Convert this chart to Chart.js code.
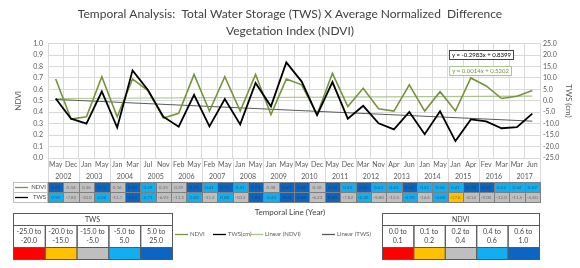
<!DOCTYPE html>
<html>
<head>
<meta charset="utf-8">
<script src="https://cdn.jsdelivr.net/npm/chart.js@4"></script>
<style>
html, body { margin: 0; padding: 0; background: #fff; }
</style>
</head>
<body>
<canvas id="grafico" width="580" height="268"></canvas>
<script>
const meses = ["May", "Dec", "Jan", "May", "Jan", "Mar", "Jul", "Nov", "Feb", "May", "Feb", "May", "Jan", "May", "Jan", "May",
    "May", "Dec", "May", "Dec", "Mar", "Nov", "Apr", "Jun", "Jan", "May", "Jan", "Apr", "Fev", "Mar", "Mar", "Jun"];
const anos = ["2002", "2003", "2004", "2005", "2006", "2007", "2008", "2009", "2010", "2011", "2012", "2013", "2014", "2015", "2016", "2017"];

const ndvi = [0.69, 0.34, 0.36, 0.71, 0.36, 0.69, 0.59, 0.35, 0.39, 0.73, 0.41, 0.71, 0.41, 0.73, 0.38, 0.69,
    0.64, 0.38, 0.74, 0.45, 0.61, 0.43, 0.41, 0.64, 0.41, 0.58, 0.41, 0.70, 0.63, 0.52, 0.54, 0.59];
const tws = [0.99, -7.82, -10.0, 4.06, -11.7, 13.3, 4.71, -6.93, -11.3, 2.6, -11.2, 0.8, -10.3, 7.8, -2.43, 16.8,
    8.4, -6.23, 8.2, -7.82, -2.2, -9.8, -12.5, -4.9, -14.6, -4.6, -17.6, -8.14, -9.0, -12.0, -11.5, -5.6];

// extremos das linhas de tendência
const linearNdvi = [0.52, 0.54];
const linearTws = [0.6, -8.9];
const eqTws = "y = -0.2983x + 0.8399";
const eqNdvi = "y = 0.0014x + 0.5202";

const faixasTws = [["-25.0 to", "-20.0"], ["-20.0 to", "-15.0"], ["-15.0 to", "-5.0"], ["-5.0 to", "5.0"], ["5.0 to", "25.0"]];
const faixasNdvi = [["0.0 to", "0.1"], ["0.1 to", "0.2"], ["0.2 to", "0.4"], ["0.4 to", "0.6"], ["0.6 to", "1.0"]];
const limitesTws = [-20, -15, -5, 5];
const limitesNdvi = [0.1, 0.2, 0.4, 0.6];
const coresFaixa = ["#ff0000", "#ffc000", "#bfbfbf", "#12aef0", "#0a66c2"];

const corNdvi = "#77933c";
const corTws = "#000000";
const corLinNdvi = "#a9c48e";
const corLinTws = "#595959";
const fonte = "Lato";

function extremos(par) {
    return meses.map((m, i) => (i === 0 ? par[0] : i === meses.length - 1 ? par[1] : null));
}

function corDe(v, limites) {
    return coresFaixa[limites.filter((l) => v > l).length];
}

function tabelaLegenda(ctx, x0, y0, w, titulo, faixas) {
    const colW = w / 5;
    ctx.strokeStyle = "#595959";
    ctx.lineWidth = 1;
    ctx.fillStyle = "#404040";
    ctx.font = "7px " + fonte;
    ctx.textAlign = "center";
    ctx.textBaseline = "middle";
    ctx.strokeRect(x0 + 0.5, y0 + 0.5, w, 12);
    ctx.fillText(titulo, x0 + w / 2, y0 + 7);
    faixas.forEach((f, i) => {
        const cx = x0 + i * colW;
        ctx.fillStyle = coresFaixa[i];
        ctx.fillRect(cx + 0.5, y0 + 34.5, colW, 12);
        ctx.strokeStyle = "#595959";
        ctx.strokeRect(cx + 0.5, y0 + 12.5, colW, 22);
        ctx.strokeRect(cx + 0.5, y0 + 34.5, colW, 12);
        ctx.fillStyle = "#404040";
        ctx.fillText(f[0], cx + colW / 2, y0 + 19);
        ctx.fillText(f[1], cx + colW / 2, y0 + 28);
    });
}

const tabelaPlugin = {
    id: "tabela",
    afterDraw(chart) {
        const ctx = chart.ctx;
        const x = chart.scales.x;
        const area = chart.chartArea;
        const passo = x.getPixelForValue(1) - x.getPixelForValue(0);
        ctx.save();

        // anos e divisórias
        ctx.font = "7px " + fonte;
        ctx.fillStyle = "#595959";
        ctx.textAlign = "center";
        ctx.textBaseline = "middle";
        ctx.strokeStyle = "#d9d9d9";
        ctx.lineWidth = 1;
        anos.forEach((ano, k) => {
            const cx = (x.getPixelForValue(2 * k) + x.getPixelForValue(2 * k + 1)) / 2;
            ctx.fillText(ano, cx, area.bottom + 19);
            const xl = Math.round(x.getPixelForValue(2 * k) - passo / 2) + 0.5;
            ctx.beginPath();
            ctx.moveTo(xl, area.bottom);
            ctx.lineTo(xl, area.bottom + 24);
            ctx.stroke();
        });
        const xr = Math.round(x.getPixelForValue(meses.length - 1) + passo / 2) + 0.5;
        ctx.beginPath();
        ctx.moveTo(xr, area.bottom);
        ctx.lineTo(xr, area.bottom + 24);
        ctx.stroke();

        // tabela de dados
        const linhas = [
            { nome: "NDVI", dados: ndvi, cor: corNdvi, lim: limitesNdvi, fmt: (v) => v.toFixed(2) },
            { nome: "TWS", dados: tws, cor: corTws, lim: limitesTws, fmt: (v) => (Math.abs(v) >= 10 ? v.toFixed(1) : v.toFixed(2)) },
        ];
        linhas.forEach((linha, r) => {
            const y0 = area.bottom + 24 + r * 10;
            ctx.strokeStyle = "#bfbfbf";
            ctx.strokeRect(13.5, y0 + 0.5, area.left - 14, 10);
            ctx.strokeStyle = linha.cor;
            ctx.lineWidth = 1.3;
            ctx.beginPath();
            ctx.moveTo(15, y0 + 5.5);
            ctx.lineTo(28, y0 + 5.5);
            ctx.stroke();
            ctx.lineWidth = 1;
            ctx.fillStyle = "#404040";
            ctx.font = "6px " + fonte;
            ctx.textAlign = "right";
            ctx.fillText(linha.nome, area.left - 2, y0 + 5.5);
            ctx.textAlign = "center";
            linha.dados.forEach((v, i) => {
                const cx = x.getPixelForValue(i);
                const xl = Math.round(cx - passo / 2);
                const xw = Math.round(cx + passo / 2) - xl;
                ctx.fillStyle = corDe(v, linha.lim);
                ctx.fillRect(xl, y0, xw, 10);
                ctx.strokeStyle = "#7f7f7f";
                ctx.strokeRect(xl + 0.5, y0 + 0.5, xw, 10);
                ctx.fillStyle = "rgba(40,40,40,0.55)";
                ctx.font = "4.5px " + fonte;
                ctx.fillText(linha.fmt(v), cx, y0 + 5.5);
            });
        });

        // título do eixo x
        ctx.font = "8px " + fonte;
        ctx.fillStyle = "#404040";
        ctx.textAlign = "center";
        ctx.fillText("Temporal Line (Year)", 290, 212);

        // legenda das séries
        const itens = [
            { nome: "NDVI", cor: corNdvi, x: 175 },
            { nome: "TWS(cm)", cor: corTws, x: 213 },
            { nome: "Linear (NDVI)", cor: corLinNdvi, x: 250 },
            { nome: "Linear (TWS)", cor: corLinTws, x: 322 },
        ];
        ctx.font = "6px " + fonte;
        ctx.textAlign = "left";
        itens.forEach((it) => {
            ctx.strokeStyle = it.cor;
            ctx.lineWidth = 1.3;
            ctx.beginPath();
            ctx.moveTo(it.x, 234.5);
            ctx.lineTo(it.x + 13, 234.5);
            ctx.stroke();
            ctx.fillStyle = "#595959";
            ctx.fillText(it.nome, it.x + 15, 234.5);
        });
        ctx.lineWidth = 1;

        // tabelas de faixas
        tabelaLegenda(ctx, 13, 213, 159, "TWS", faixasTws);
        tabelaLegenda(ctx, 382, 213, 157, "NDVI", faixasNdvi);

        // equações das tendências
        ctx.font = "6px " + fonte;
        ctx.textAlign = "right";
        [
            { texto: eqTws, cor: "#000000", borda: "#404040", y: 50 },
            { texto: eqNdvi, cor: corNdvi, borda: corLinNdvi, y: 66 },
        ].forEach((eq, k) => {
            const w = ctx.measureText(eq.texto).width + 5;
            const xr = k === 0 ? 513 : 511;
            ctx.fillStyle = "#ffffff";
            ctx.fillRect(xr - w, eq.y, w, 9);
            ctx.strokeStyle = eq.borda;
            ctx.strokeRect(xr - w + 0.5, eq.y + 0.5, w, 9);
            ctx.fillStyle = eq.cor;
            ctx.fillText(eq.texto, xr - 2, eq.y + 5);
        });
        ctx.restore();
    },
};

const configGrafico = {
    type: "line",
    data: {
        labels: meses,
        datasets: [
            { label: "TWS(cm)", data: tws, yAxisID: "y2", borderColor: corTws, borderWidth: 1.8, order: 1 },
            { label: "NDVI", data: ndvi, yAxisID: "y", borderColor: corNdvi, borderWidth: 1.6, order: 2 },
            { label: "Linear (TWS)", data: extremos(linearTws), yAxisID: "y2", borderColor: corLinTws, borderWidth: 1, spanGaps: true, order: 3 },
            { label: "Linear (NDVI)", data: extremos(linearNdvi), yAxisID: "y", borderColor: corLinNdvi, borderWidth: 1.2, spanGaps: true, order: 4 },
        ],
    },
    options: {
        responsive: false,
        animation: false,
        devicePixelRatio: 1,
        elements: {
            point: { radius: 0 },
            line: { tension: 0 },
        },
        layout: { padding: { left: 0, right: 0, top: 0, bottom: 0 } },
        plugins: {
            legend: { display: false },
            tooltip: { enabled: false },
            title: {
                display: true,
                text: ["Temporal Analysis:  Total Water Storage (TWS) X Average Normalized  Difference", "Vegetation Index (NDVI)"],
                color: "#404040",
                font: { family: fonte, size: 12, weight: "normal", lineHeight: 1.4 },
                padding: { top: 6, bottom: 4 },
            },
        },
        scales: {
            x: {
                offset: true,
                grid: { offset: true, color: "#d9d9d9", drawTicks: false },
                border: { display: false },
                ticks: { color: "#595959", font: { family: fonte, size: 7 }, padding: 3, maxRotation: 0, autoSkip: false },
                afterFit: (s) => { s.height = 110; },
            },
            y: {
                min: 0,
                max: 1,
                ticks: { stepSize: 0.1, color: "#595959", font: { family: fonte, size: 7 }, padding: 5, callback: (v) => v.toFixed(1) },
                grid: { color: "#d9d9d9", drawTicks: false },
                border: { display: false },
                title: { display: true, text: "NDVI", color: "#595959", font: { family: fonte, size: 8 }, padding: { top: 14 } },
                afterFit: (s) => { s.width = 48; },
            },
            y2: {
                position: "right",
                min: -25,
                max: 25,
                ticks: { stepSize: 5, color: "#595959", font: { family: fonte, size: 7 }, padding: 3, callback: (v) => v.toFixed(1) },
                grid: { drawOnChartArea: false, drawTicks: false },
                border: { display: false },
                title: { display: true, text: "TWS (cm)", color: "#595959", font: { family: fonte, size: 8 }, padding: { top: 7 } },
                afterFit: (s) => { s.width = 40; },
            },
        },
    },
    plugins: [tabelaPlugin],
};

const chartGrafico = new Chart(document.getElementById("grafico"), configGrafico);
</script>
</body>
</html>
